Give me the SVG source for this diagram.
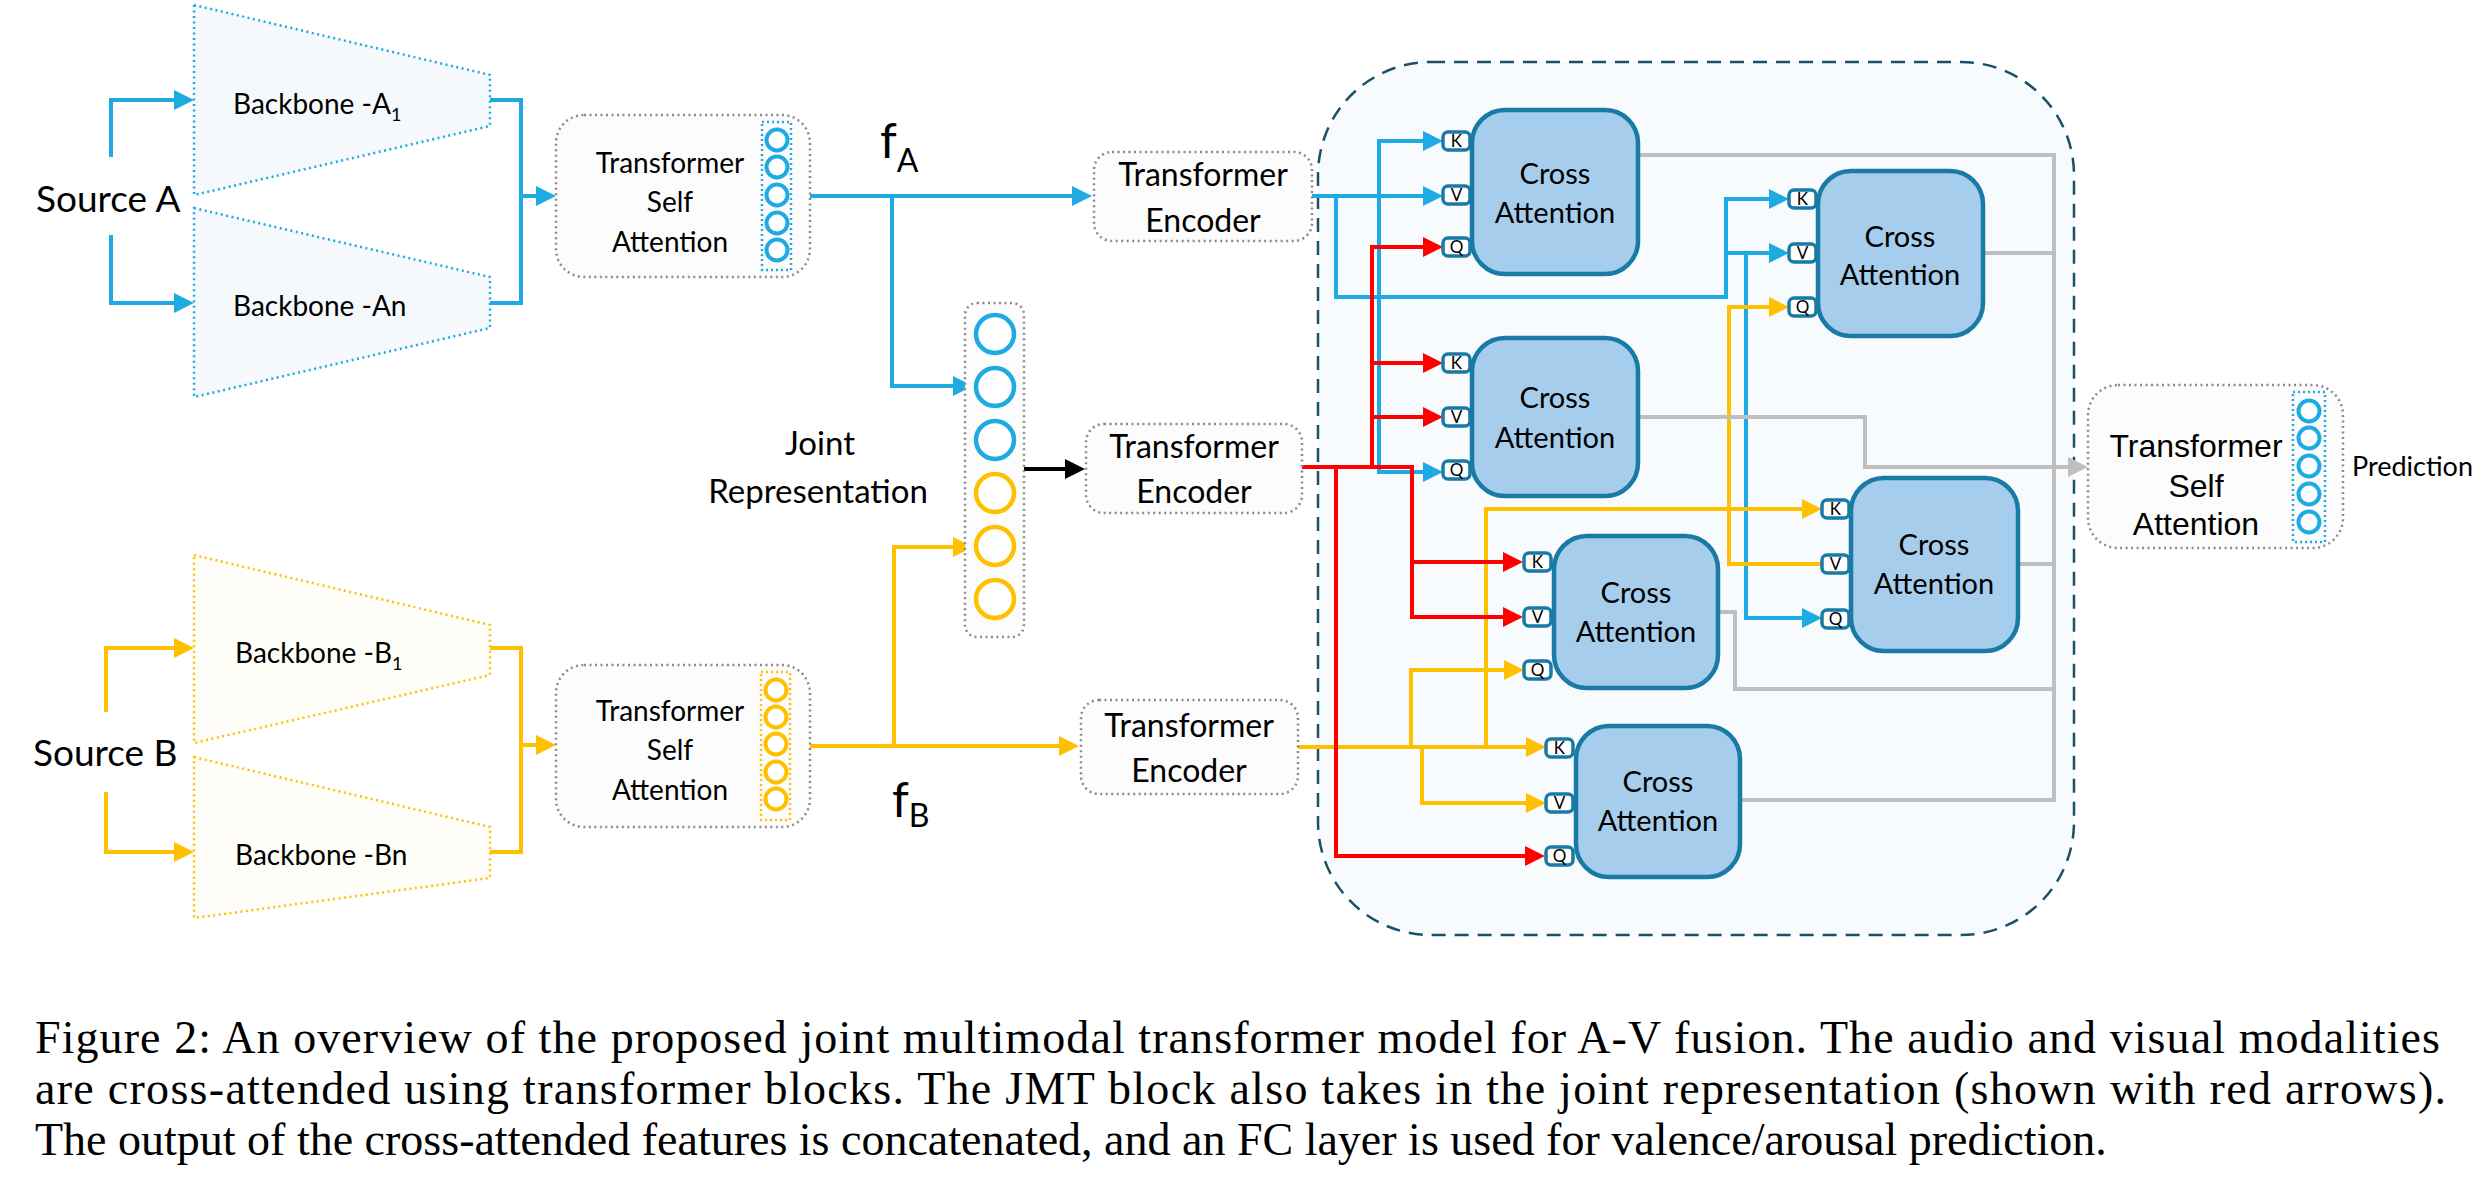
<svg xmlns="http://www.w3.org/2000/svg" width="2482" height="1190" viewBox="0 0 2482 1190">
<style>
.t{font-family:Lato,"Open Sans",sans-serif;fill:#000}
.ta{font-family:"Liberation Sans",Arial,sans-serif;fill:#000}
.cap{font-family:"Liberation Serif","Times New Roman",serif;font-size:46px;fill:#000}
.dot{fill:#fcfcfc;stroke:#8a8a8a;stroke-width:2.5;stroke-dasharray:2 3.5}
.bl{fill:none;stroke:#1EAAE2;stroke-width:4}
.ye{fill:none;stroke:#FFC000;stroke-width:4}
.rd{fill:none;stroke:#FF0000;stroke-width:4}
.gy{fill:none;stroke:#BFBFBF;stroke-width:4}
.bk{fill:none;stroke:#000;stroke-width:4}
.ca{fill:#A6CEEC;stroke:#1A7AA6;stroke-width:4.5}
.port{fill:#fff;stroke:#1A7AA6;stroke-width:3.5}
.pl{font-family:Lato,"Open Sans",sans-serif;font-size:17px;text-anchor:middle}
.cbl{fill:#fff;stroke:#1EAAE2;stroke-width:4}
.cye{fill:#fff;stroke:#FFC000;stroke-width:4}
</style>
<defs>
<marker id="mb" markerUnits="userSpaceOnUse" markerWidth="22" markerHeight="22" refX="2" refY="10" orient="auto"><path d="M0,0 L20,10 L0,20 z" fill="#1EAAE2"/></marker>
<marker id="my" markerUnits="userSpaceOnUse" markerWidth="22" markerHeight="22" refX="2" refY="10" orient="auto"><path d="M0,0 L20,10 L0,20 z" fill="#FFC000"/></marker>
<marker id="mr" markerUnits="userSpaceOnUse" markerWidth="22" markerHeight="22" refX="2" refY="10" orient="auto"><path d="M0,0 L20,10 L0,20 z" fill="#FF0000"/></marker>
<marker id="mg" markerUnits="userSpaceOnUse" markerWidth="22" markerHeight="22" refX="2" refY="10" orient="auto"><path d="M0,0 L20,10 L0,20 z" fill="#BFBFBF"/></marker>
<marker id="mk" markerUnits="userSpaceOnUse" markerWidth="22" markerHeight="22" refX="2" refY="10" orient="auto"><path d="M0,0 L20,10 L0,20 z" fill="#000"/></marker>
</defs>
<rect width="2482" height="1190" fill="#fff"/>

<g id="jmt-container">
<rect x="1318" y="62" width="756" height="873" rx="113" fill="#F8FBFE" stroke="#1C4F6A" stroke-width="2.5" stroke-dasharray="14 9"/>
</g>

<g id="backbone-a1">
<polygon points="194,5 490,75 490,126 194,195" fill="#F6F9FC" stroke="#1EAAE2" stroke-width="2.5" stroke-dasharray="2 3.5"/>
<text class="t" x="233" y="114" font-size="28">Backbone -A<tspan font-size="18" dy="7">1</tspan></text>
</g>
<g id="backbone-an">
<polygon points="194,208 490,277 490,328 194,397" fill="#F6F9FC" stroke="#1EAAE2" stroke-width="2.5" stroke-dasharray="2 3.5"/>
<text class="t" x="233" y="316" font-size="28">Backbone -An</text>
</g>
<g id="backbone-b1">
<polygon points="194,555 490,625 490,675 194,743" fill="#FFFDF7" stroke="#FFC000" stroke-width="2.5" stroke-dasharray="2 3.5"/>
<text class="t" x="235" y="663" font-size="28">Backbone -B<tspan font-size="18" dy="7">1</tspan></text>
</g>
<g id="backbone-bn">
<polygon points="194,757 490,827 490,878 194,918" fill="#FFFDF7" stroke="#FFC000" stroke-width="2.5" stroke-dasharray="2 3.5"/>
<text class="t" x="235" y="865" font-size="28">Backbone -Bn</text>
</g>

<g id="source-a"><text class="t" x="36" y="212" font-size="37">Source A</text></g>
<g id="source-b"><text class="t" x="33" y="766" font-size="37">Source B</text></g>

<g id="connectors">
<path class="bl" d="M111,157 V100 H176" marker-end="url(#mb)"/>
<path class="bl" d="M111,235 V303 H176" marker-end="url(#mb)"/>
<path class="bl" d="M490,100 H521 V303 H490"/>
<path class="bl" d="M521,196 H538" marker-end="url(#mb)"/>
<path class="bl" d="M810,196 H1074" marker-end="url(#mb)"/>
<path class="bl" d="M892,196 V386 H955" marker-end="url(#mb)"/>
<path class="bl" d="M1312,196 H1425" marker-end="url(#mb)"/>
<path class="bl" d="M1379,196 V141 H1425" marker-end="url(#mb)"/>
<path class="bl" d="M1379,196 V472 H1425" marker-end="url(#mb)"/>
<path class="bl" d="M1336,196 V297 H1726 V199 H1771" marker-end="url(#mb)"/>
<path class="bl" d="M1726,253 H1771" marker-end="url(#mb)"/>
<path class="bl" d="M1746,253 V618 H1804" marker-end="url(#mb)"/>

<path class="ye" d="M106,712 V648 H176" marker-end="url(#my)"/>
<path class="ye" d="M106,792 V852 H176" marker-end="url(#my)"/>
<path class="ye" d="M490,648 H521 V852 H490"/>
<path class="ye" d="M521,745 H538" marker-end="url(#my)"/>
<path class="ye" d="M810,746 H1061" marker-end="url(#my)"/>
<path class="ye" d="M894,746 V547 H955" marker-end="url(#my)"/>
<path class="ye" d="M1298,747 H1528" marker-end="url(#my)"/>
<path class="ye" d="M1422,747 V803 H1528" marker-end="url(#my)"/>
<path class="ye" d="M1411,747 V670 H1506" marker-end="url(#my)"/>
<path class="ye" d="M1486,747 V509 H1804" marker-end="url(#my)"/>
<path class="ye" d="M1729,509 V307 H1771" marker-end="url(#my)"/>
<path class="ye" d="M1729,509 V564 H1822"/>

<path class="rd" d="M1302,467 H1412 V617 H1505" marker-end="url(#mr)"/>
<path class="rd" d="M1412,562 H1505" marker-end="url(#mr)"/>
<path class="rd" d="M1372,467 V247 H1425" marker-end="url(#mr)"/>
<path class="rd" d="M1372,363 H1425" marker-end="url(#mr)"/>
<path class="rd" d="M1372,417 H1425" marker-end="url(#mr)"/>
<path class="rd" d="M1336,467 V856 H1527" marker-end="url(#mr)"/>

<path class="bk" d="M1024,469 H1067" marker-end="url(#mk)"/>

<path class="gy" d="M1638,155 H2054 V800 H1740"/>
<path class="gy" d="M1983,253 H2054"/>
<path class="gy" d="M2018,564 H2054"/>
<path class="gy" d="M1718,612 H1735 V689 H2054"/>
<path class="gy" d="M1638,417 H1865 V467 H2070" marker-end="url(#mg)"/>
</g>

<g id="tsa-a">
<rect class="dot" x="556" y="115" width="254" height="162" rx="28"/>
<g class="t" font-size="28" text-anchor="middle">
<text x="670" y="173">Transformer</text><text x="670" y="212">Self</text><text x="670" y="252">Attention</text>
</g>
<rect x="762" y="122" width="29" height="148" fill="none" stroke="#1EAAE2" stroke-width="2.5" stroke-dasharray="2 3"/>
<circle class="cbl" cx="777" cy="140" r="10.5"/><circle class="cbl" cx="777" cy="167" r="10.5"/><circle class="cbl" cx="777" cy="195" r="10.5"/><circle class="cbl" cx="777" cy="223" r="10.5"/><circle class="cbl" cx="777" cy="250" r="10.5"/>
</g>

<g id="tsa-b">
<rect class="dot" x="556" y="665" width="254" height="162" rx="28"/>
<g class="t" font-size="28" text-anchor="middle">
<text x="670" y="721">Transformer</text><text x="670" y="760">Self</text><text x="670" y="800">Attention</text>
</g>
<rect x="761" y="672" width="29" height="148" fill="none" stroke="#FFC000" stroke-width="2.5" stroke-dasharray="2 3"/>
<circle class="cye" cx="776" cy="690" r="10.5"/><circle class="cye" cx="776" cy="717" r="10.5"/><circle class="cye" cx="776" cy="744" r="10.5"/><circle class="cye" cx="776" cy="772" r="10.5"/><circle class="cye" cx="776" cy="799" r="10.5"/>
</g>

<g id="fa"><text class="t" x="880" y="158" font-size="48">f<tspan font-size="32" dy="14">A</tspan></text></g>
<g id="fb"><text class="t" x="892" y="817" font-size="48">f<tspan font-size="32" dy="10">B</tspan></text></g>

<g id="joint-representation">
<rect class="dot" x="965" y="303" width="59" height="334" rx="12"/>
<circle cx="995" cy="334" r="19" fill="#fff" stroke="#1EAAE2" stroke-width="4.5"/>
<circle cx="995" cy="387" r="19" fill="#fff" stroke="#1EAAE2" stroke-width="4.5"/>
<circle cx="995" cy="440" r="19" fill="#fff" stroke="#1EAAE2" stroke-width="4.5"/>
<circle cx="995" cy="493" r="19" fill="#fff" stroke="#FFC000" stroke-width="4.5"/>
<circle cx="995" cy="546" r="19" fill="#fff" stroke="#FFC000" stroke-width="4.5"/>
<circle cx="995" cy="599" r="19" fill="#fff" stroke="#FFC000" stroke-width="4.5"/>
<g class="t" font-size="33" text-anchor="middle"><text x="820" y="455">Joint</text><text x="818" y="503">Representation</text></g>
</g>

<g id="te-a">
<rect class="dot" x="1094" y="152" width="218" height="89" rx="18"/>
<g class="t" font-size="32" text-anchor="middle"><text x="1203" y="186">Transformer</text><text x="1203" y="232">Encoder</text></g>
</g>
<g id="te-joint">
<rect class="dot" x="1086" y="424" width="216" height="89" rx="18"/>
<g class="t" font-size="32" text-anchor="middle"><text x="1194" y="458">Transformer</text><text x="1194" y="503">Encoder</text></g>
</g>
<g id="te-b">
<rect class="dot" x="1081" y="700" width="217" height="94" rx="18"/>
<g class="t" font-size="32" text-anchor="middle"><text x="1189" y="737">Transformer</text><text x="1189" y="782">Encoder</text></g>
</g>

<g id="ca1">
<rect class="ca" x="1472" y="110" width="166" height="164" rx="33"/>
<g class="t" font-size="29" text-anchor="middle"><text x="1555" y="184">Cross</text><text x="1555" y="223">Attention</text></g>
<rect class="port" x="1443" y="132" width="27" height="18" rx="5"/><text class="pl" x="1456.5" y="147">K</text>
<rect class="port" x="1443" y="186" width="27" height="18" rx="5"/><text class="pl" x="1456.5" y="201">V</text>
<rect class="port" x="1443" y="238" width="27" height="18" rx="5"/><text class="pl" x="1456.5" y="253">Q</text>
</g>
<g id="ca2">
<rect class="ca" x="1818" y="171" width="165" height="165" rx="33"/>
<g class="t" font-size="29" text-anchor="middle"><text x="1900" y="247">Cross</text><text x="1900" y="285">Attention</text></g>
<rect class="port" x="1789" y="190" width="27" height="18" rx="5"/><text class="pl" x="1802.5" y="205">K</text>
<rect class="port" x="1789" y="244" width="27" height="18" rx="5"/><text class="pl" x="1802.5" y="259">V</text>
<rect class="port" x="1789" y="298" width="27" height="18" rx="5"/><text class="pl" x="1802.5" y="313">Q</text>
</g>
<g id="ca3">
<rect class="ca" x="1472" y="338" width="166" height="158" rx="33"/>
<g class="t" font-size="29" text-anchor="middle"><text x="1555" y="408">Cross</text><text x="1555" y="448">Attention</text></g>
<rect class="port" x="1443" y="354" width="27" height="18" rx="5"/><text class="pl" x="1456.5" y="369">K</text>
<rect class="port" x="1443" y="408" width="27" height="18" rx="5"/><text class="pl" x="1456.5" y="423">V</text>
<rect class="port" x="1443" y="461" width="27" height="18" rx="5"/><text class="pl" x="1456.5" y="476">Q</text>
</g>
<g id="ca4">
<rect class="ca" x="1554" y="536" width="164" height="152" rx="33"/>
<g class="t" font-size="29" text-anchor="middle"><text x="1636" y="603">Cross</text><text x="1636" y="642">Attention</text></g>
<rect class="port" x="1524" y="553" width="27" height="18" rx="5"/><text class="pl" x="1537.5" y="568">K</text>
<rect class="port" x="1524" y="608" width="27" height="18" rx="5"/><text class="pl" x="1537.5" y="623">V</text>
<rect class="port" x="1524" y="661" width="27" height="18" rx="5"/><text class="pl" x="1537.5" y="676">Q</text>
</g>
<g id="ca5">
<rect class="ca" x="1851" y="478" width="167" height="173" rx="33"/>
<g class="t" font-size="29" text-anchor="middle"><text x="1934" y="555">Cross</text><text x="1934" y="594">Attention</text></g>
<rect class="port" x="1822" y="500" width="27" height="18" rx="5"/><text class="pl" x="1835.5" y="515">K</text>
<rect class="port" x="1822" y="555" width="27" height="18" rx="5"/><text class="pl" x="1835.5" y="570">V</text>
<rect class="port" x="1822" y="610" width="27" height="18" rx="5"/><text class="pl" x="1835.5" y="625">Q</text>
</g>
<g id="ca6">
<rect class="ca" x="1576" y="726" width="164" height="151" rx="33"/>
<g class="t" font-size="29" text-anchor="middle"><text x="1658" y="792">Cross</text><text x="1658" y="831">Attention</text></g>
<rect class="port" x="1546" y="739" width="27" height="18" rx="5"/><text class="pl" x="1559.5" y="754">K</text>
<rect class="port" x="1546" y="794" width="27" height="18" rx="5"/><text class="pl" x="1559.5" y="809">V</text>
<rect class="port" x="1546" y="847" width="27" height="18" rx="5"/><text class="pl" x="1559.5" y="862">Q</text>
</g>

<g id="tsa-prediction">
<rect class="dot" x="2088" y="385" width="255" height="163" rx="30"/>
<g class="ta" font-size="32" text-anchor="middle"><text x="2196" y="457">Transformer</text><text x="2196" y="497">Self</text><text x="2196" y="535">Attention</text></g>
<rect x="2293" y="392" width="32" height="150" fill="none" stroke="#1EAAE2" stroke-width="2.5" stroke-dasharray="2 3"/>
<circle class="cbl" cx="2309" cy="411" r="10.5"/><circle class="cbl" cx="2309" cy="438" r="10.5"/><circle class="cbl" cx="2309" cy="466" r="10.5"/><circle class="cbl" cx="2309" cy="494" r="10.5"/><circle class="cbl" cx="2309" cy="522" r="10.5"/>
</g>
<g id="prediction"><text class="t" x="2352" y="476" font-size="27">Prediction</text></g>

<g id="caption">
<text class="cap" x="35" y="1053" textLength="2405" lengthAdjust="spacing">Figure 2: An overview of the proposed joint multimodal transformer model for A-V fusion. The audio and visual modalities</text>
<text class="cap" x="35" y="1104" textLength="2411" lengthAdjust="spacing">are cross-attended using transformer blocks. The JMT block also takes in the joint representation (shown with red arrows).</text>
<text class="cap" x="35" y="1155">The output of the cross-attended features is concatenated, and an FC layer is used for valence/arousal prediction.</text>
</g>
</svg>
